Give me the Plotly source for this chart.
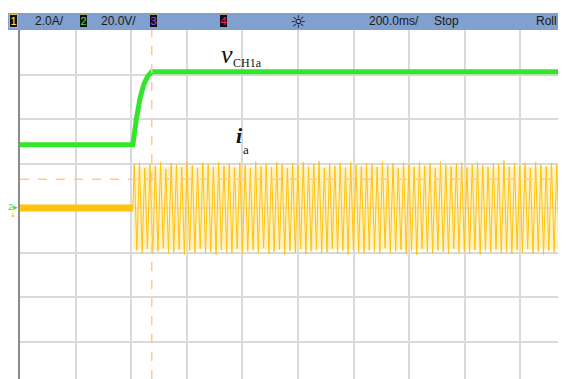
import plotly.graph_objects as go

# ---- data (screen divisions: 200 ms/div horizontally; 2.0 A/div, 20.0 V/div vertically) ----
x_range_div = [0.0, 9.82]
y_range_div = [-3.84, 4.0]

# v_CH1a (green, channel 2)
vch1_x_div = [0.0, 2.03, 2.09, 2.16, 2.23, 2.30, 2.37, 9.82]
vch1_y_div = [1.42, 1.42, 1.98, 2.47, 2.79, 2.97, 3.06, 3.06]

# i_a (yellow, channel 1) before the step
ia_pre_x_div = [0.0, 2.03]
ia_pre_y_div = [0.0, 0.0]

# i_a after the step: per-cycle positive / negative peaks
ia_start_div = 2.03
ia_end_div = 9.82
ia_hi = [0.98, 1.02, 0.90, 1.00, 0.95, 1.03, 0.88, 1.01, 0.97, 0.92,
         1.04, 0.96, 0.89, 1.02, 0.99, 0.93, 1.03, 0.95, 1.00, 0.91,
         1.02, 0.97, 0.90, 1.04, 0.94, 1.00, 0.92, 1.03, 0.98, 0.89,
         1.01, 0.96, 1.03, 0.93, 0.99, 1.05, 0.90, 1.00, 0.95, 1.02,
         0.91, 1.03, 0.97, 0.94, 1.01, 0.99, 0.92, 1.04, 0.96, 1.00,
         0.90, 1.02, 0.98, 0.93, 1.03, 0.95, 1.01, 0.89, 1.04, 0.97,
         0.94, 1.00, 1.02, 0.91, 0.98, 1.03, 0.96, 0.92, 1.01, 0.99,
         1.07, 0.93, 1.00, 0.95, 1.02, 0.90, 1.03, 0.97, 0.94, 1.01,
         0.98, 1.02]
ia_lo = [-0.95, -1.01, -0.92, -1.03, -0.97, -0.90, -1.02, -0.99, -0.93, -1.04,
         -0.96, -1.00, -0.91, -1.02, -0.98, -1.05, -0.94, -0.99, -1.01, -0.92,
         -1.03, -0.97, -0.95, -1.00, -0.90, -1.02, -0.98, -0.93, -1.04, -0.96,
         -1.00, -0.92, -1.03, -0.97, -0.94, -1.01, -0.99, -0.91, -1.02, -0.96,
         -1.04, -0.93, -0.99, -1.01, -0.95, -0.98, -1.03, -0.90, -1.00, -0.97,
         -0.94, -1.02, -0.96, -1.05, -0.92, -0.99, -1.01, -0.95, -0.98, -1.03,
         -0.91, -1.00, -0.97, -1.02, -0.94, -1.04, -0.96, -0.99, -0.93, -1.01,
         -0.98, -1.03, -0.95, -1.00, -0.92, -1.02, -0.97, -1.04, -0.96, -0.99,
         -1.01, -0.94]
ia_band = [0.93, -0.93]

# cursors (orange dashed)
trigger_time_div = 2.37
trigger_level_div = 0.65

# header texts
header_texts = ["2.0A/", "20.0V/", "200.0ms/", "Stop", "Roll"]
badge_texts = ["1", "2", "3", "4"]

# ---- build yellow zig-zag from the per-cycle peaks ----
n = len(ia_hi)
period = (ia_end_div - ia_start_div) / n
ia_x, ia_y = [ia_start_div], [0.0]
for k in range(n):
    ia_x += [ia_start_div + (k + 0.25) * period, ia_start_div + (k + 0.75) * period]
    ia_y += [ia_hi[k], ia_lo[k]]

GREEN = "#34e62a"
YELLOW = "#ffc20e"
ORANGE = "#ffc996"

fig = go.Figure()
# pale envelope of the current
fig.add_trace(go.Scatter(
    x=[ia_start_div, ia_end_div, ia_end_div, ia_start_div, ia_start_div],
    y=[ia_band[0], ia_band[0], ia_band[1], ia_band[1], ia_band[0]],
    fill="toself", fillcolor="rgba(255,230,140,0.5)", line=dict(width=0),
    mode="lines", hoverinfo="skip", showlegend=False))
fig.add_trace(go.Scatter(x=ia_x, y=ia_y, mode="lines",
                         line=dict(color=YELLOW, width=1), showlegend=False))
fig.add_trace(go.Scatter(x=ia_pre_x_div, y=ia_pre_y_div, mode="lines",
                         line=dict(color=YELLOW, width=7), showlegend=False))
fig.add_trace(go.Scatter(x=vch1_x_div, y=vch1_y_div, mode="lines",
                         line=dict(color=GREEN, width=5), showlegend=False))

# cursors
fig.add_shape(type="line", xref="x", yref="paper", x0=trigger_time_div, x1=trigger_time_div,
              y0=0, y1=1, line=dict(color=ORANGE, width=1.5, dash="dash"), layer="above")
fig.add_shape(type="line", xref="paper", yref="y", x0=0, x1=1,
              y0=trigger_level_div, y1=trigger_level_div,
              line=dict(color=ORANGE, width=1.5, dash="dash"), layer="above")

# header bar (positions in reference pixels -> paper)
def px_x(x):
    return (x - 20) / 546.0

def px_y(y):
    return 1 + (30 - y) / 349.0

fig.add_shape(type="rect", xref="paper", yref="paper", x0=px_x(8), x1=px_x(570),
              y0=1.0, y1=px_y(13), fillcolor="#80a0cf", line=dict(width=0), layer="above")

hy = px_y(21.5)
text_pos = [49, 118.5, 394, 446.7, 546.7]
for t, xp in zip(header_texts, text_pos):
    fig.add_annotation(x=px_x(xp), y=hy, xref="paper", yref="paper", text=t,
                       showarrow=False, font=dict(family="Liberation Sans", size=12, color="#1a1a1a"),
                       xanchor="center", yanchor="middle")

badge_pos = [13, 83.7, 153.7, 223]
badge_cols = ["#ffff30", "#40e040", "#a040ff", "#ff2070"]
badge_border = ["#d8c040", "#a0a070", "#a0a070", "#a0a070"]
for t, xp, c, bc in zip(badge_texts, badge_pos, badge_cols, badge_border):
    fig.add_annotation(x=px_x(xp), y=hy, xref="paper", yref="paper", text=t,
                       showarrow=False, font=dict(family="Liberation Sans", size=11, color=c),
                       bgcolor="#101010", bordercolor=bc, borderwidth=1, borderpad=0,
                       width=7, height=12, xanchor="center", yanchor="middle")

fig.add_annotation(x=px_x(298), y=hy, xref="paper", yref="paper", text="☼",
                   showarrow=False, font=dict(family="DejaVu Sans", size=18, color="#111"),
                   xanchor="center", yanchor="middle")

# channel labels
fig.add_annotation(x=3.72, y=3.45, text="<i>v</i>", showarrow=False,
                   font=dict(family="Liberation Serif", size=26, color="#111"),
                   xanchor="center", yanchor="middle")
fig.add_annotation(x=4.10, y=3.27, text="CH1a", showarrow=False,
                   font=dict(family="Liberation Serif", size=12, color="#111"),
                   xanchor="center", yanchor="middle")
fig.add_annotation(x=3.94, y=1.62, text="<b><i>i</i></b>", showarrow=False,
                   font=dict(family="Liberation Serif", size=22, color="#111"),
                   xanchor="center", yanchor="middle")
fig.add_annotation(x=4.07, y=1.31, text="a", showarrow=False,
                   font=dict(family="Liberation Serif", size=13, color="#111"),
                   xanchor="center", yanchor="middle")

# ground marker for channel 2 (left of the screen)
fig.add_annotation(x=px_x(13), y=px_y(207), xref="paper", yref="paper", text="2▸",
                   showarrow=False, font=dict(family="Liberation Sans", size=9, color="#44dd33"),
                   xanchor="center", yanchor="middle")
fig.add_annotation(x=px_x(13), y=px_y(215), xref="paper", yref="paper", text="↓",
                   showarrow=False, font=dict(family="DejaVu Sans", size=7, color="#f0b020"),
                   xanchor="center", yanchor="middle")

fig.update_xaxes(range=x_range_div, dtick=1, tick0=0, showgrid=True, gridcolor="#dadada",
                 gridwidth=1.5, showticklabels=False, ticks="", zeroline=False, showline=False)
fig.update_yaxes(range=y_range_div, dtick=1, tick0=0, showgrid=True, gridcolor="#dadada",
                 gridwidth=1.5, showticklabels=False, ticks="", zeroline=False,
                 showline=True, linecolor="#8c8c8c", linewidth=2)

# the page body has an 8 px margin, so the figure is 8 px smaller and shifted
fig.update_layout(width=558, height=371, margin=dict(l=12, r=0, t=22, b=0, pad=0),
                  paper_bgcolor="white", plot_bgcolor="white", showlegend=False)

fig.write_html("out.html")
